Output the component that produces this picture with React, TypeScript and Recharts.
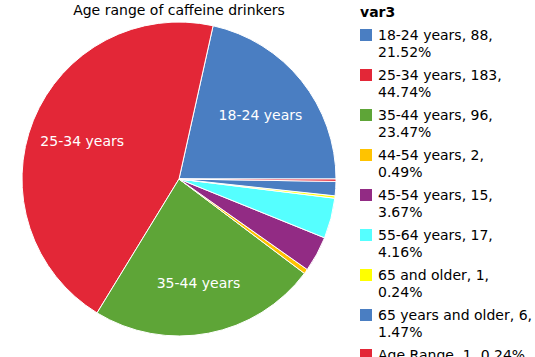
import React from "react";
import { PieChart, Pie, Cell } from "recharts";

const categories = [
  "18-24 years",
  "25-34 years",
  "35-44 years",
  "44-54 years",
  "45-54 years",
  "55-64 years",
  "65 and older",
  "65 years and older",
  "Age Range",
];
const counts = [88, 183, 96, 2, 15, 17, 1, 6, 1];
const percents = ["21.52%", "44.74%", "23.47%", "0.49%", "3.67%", "4.16%", "0.24%", "1.47%", "0.24%"];
const colors = ["#4A7EC2", "#E32737", "#5EA537", "#FFC300", "#922B84", "#55FFFF", "#FFFF00", "#4A7EC2", "#E32737"];
const labelled = ["18-24 years", "25-34 years", "35-44 years"];

const title = "Age range of caffeine drinkers";
const legendTitle = "var3";

const data = categories.map((name, i) => ({ name, value: counts[i] }));

const FONT = "'DejaVu Sans', Verdana, sans-serif";
const RADIAN = Math.PI / 180;

const renderLabel = (props: any) => {
  const { cx, cy, midAngle, outerRadius, name } = props;
  if (!labelled.includes(name)) return null;
  const r = outerRadius * 0.665;
  const x = cx + r * Math.cos(-midAngle * RADIAN);
  const y = cy + r * Math.sin(-midAngle * RADIAN);
  return (
    <text x={x} y={y + 1.5} fill="#ffffff" textAnchor="middle" dominantBaseline="central" fontSize={14} fontFamily={FONT}>
      {name}
    </text>
  );
};

export default function App() {
  return (
    <div style={{ position: "fixed", left: 0, top: 0, width: 535, height: 357, background: "#fff", overflow: "hidden", fontFamily: FONT }}>
      <div style={{ position: "absolute", left: 0, width: 358, top: 1.6, textAlign: "center", fontSize: 14, lineHeight: "17px", color: "#000" }}>
        {title}
      </div>
      <PieChart width={535} height={357} margin={{ top: 0, right: 0, bottom: 0, left: 0 }} style={{ position: "absolute", left: 0, top: 0 }}>
        <Pie
          data={data}
          dataKey="value"
          nameKey="name"
          cx={179}
          cy={179}
          outerRadius={157}
          startAngle={0}
          endAngle={360}
          stroke="#ffffff"
          strokeWidth={1}
          label={renderLabel}
          labelLine={false}
          isAnimationActive={false}
        >
          {data.map((d, i) => (
            <Cell key={d.name + i} fill={colors[i]} />
          ))}
        </Pie>
      </PieChart>
      <div style={{ position: "absolute", left: 360, top: 3.6, fontSize: 14, lineHeight: "17px", fontWeight: "bold", color: "#000" }}>
        {legendTitle}
      </div>
      {categories.map((name, i) => (
        <div key={name + i} style={{ position: "absolute", left: 360, top: 26.6 + i * 40, width: 175 }}>
          <div style={{ position: "absolute", left: 0, top: 2.4, width: 12, height: 12, background: colors[i] }} />
          <div style={{ position: "absolute", left: 18, top: 0, width: 152, fontSize: 14, lineHeight: "17px", color: "#000" }}>
            <span style={{ whiteSpace: "nowrap" }}>{`${name}, ${counts[i]},`}</span>{" "}
            <span style={{ whiteSpace: "nowrap" }}>{percents[i]}</span>
          </div>
        </div>
      ))}
    </div>
  );
}
